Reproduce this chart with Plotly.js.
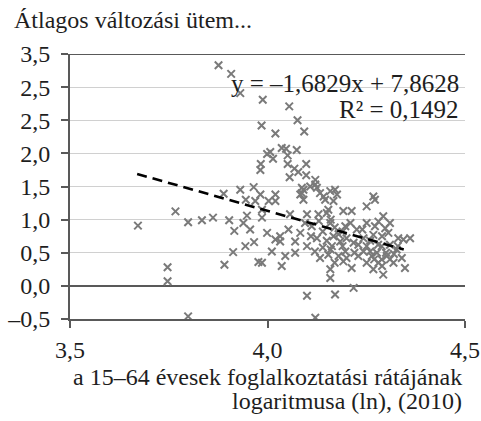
<!DOCTYPE html>
<html>
<head>
<script src="https://cdn.plot.ly/plotly-3.0.1.min.js"></script>
</head>
<body style="margin:0">
<div id="chart"></div>
<script>
// Scatter data (ln employment rate 2010 vs average change rate)
const xVals = [
3.672,3.767,3.747,3.747,3.799,3.799,3.834,3.862,3.889,3.903,3.916,3.931,3.945,3.965,3.969,3.948,3.939,3.956,3.913,3.891,3.944,3.966,3.977,
3.876,3.908,3.931,3.988,4.055,3.985,4.020,4.076,4.093,3.999,4.007,4.036,4.047,4.074,3.983,3.982,4.014,4.051,4.051,4.068,4.056,4.098,4.098,4.121,4.078,
4.125,4.087,4.083,4.133,4.159,4.171,4.268,3.982,4.020,4.003,4.020,3.986,3.986,3.999,4.020,4.032,4.011,4.032,3.986,4.057,4.053,4.070,4.045,4.036,4.070,
4.083,4.095,4.100,4.087,4.108,4.121,4.146,4.167,4.129,4.112,4.125,4.100,4.133,4.150,4.159,4.167,4.163,4.154,4.159,4.159,4.171,4.192,4.213,4.197,4.184,
4.197,4.192,4.213,4.218,4.100,4.121,4.226,4.218,4.230,4.251,4.272,4.251,4.268,4.251,4.264,4.268,4.293,4.281,4.293,4.310,4.306,4.289,4.302,4.319,4.327,
4.331,4.344,4.361,4.340,4.348,4.277,4.281,4.251,4.260,4.243,4.091,4.091,4.142,4.154,4.176,4.243,4.289,4.272,4.298,
4.14,4.15,4.16,4.17,4.18,4.19,4.20,4.18,4.14,4.16,4.21,4.20,4.23,4.24,4.22,4.26,4.28,4.30,4.29,4.31,4.32,4.33,4.27,4.29,4.31,4.11,4.12,4.13,4.17,4.19
];
const yVals = [
0.91,1.125,0.28,0.07,-0.46,0.96,0.99,1.03,1.39,0.99,0.83,1.45,1.30,1.49,1.28,1.06,0.95,0.85,0.51,0.32,0.60,0.66,0.36,
3.33,3.20,2.91,2.81,2.71,2.42,2.30,2.50,2.33,1.99,2.02,2.08,2.07,2.05,1.84,1.75,1.92,1.97,1.84,1.77,1.64,1.84,1.67,1.60,1.72,
1.48,1.48,1.38,1.40,1.43,1.45,1.35,1.38,1.38,1.28,1.28,1.15,1.03,0.80,0.70,0.75,0.52,0.67,0.35,1.08,0.85,0.67,0.45,0.30,0.50,
0.80,0.95,1.08,1.40,1.50,1.53,1.30,1.28,1.08,0.90,0.72,0.60,0.42,1.10,0.95,0.75,0.60,0.47,0.25,0.12,-0.13,1.13,1.13,0.90,0.67,
0.52,0.37,0.27,-0.03,-0.15,-0.48,0.85,0.65,0.45,1.20,1.30,0.95,0.77,0.60,0.45,0.25,0.17,0.97,1.05,0.95,0.80,0.60,0.45,0.35,0.55,
0.72,0.70,0.72,0.42,0.27,0.50,0.35,0.35,0.52,0.72,1.45,1.30,1.35,1.15,1.38,0.52,0.40,0.90,0.87,
0.82,0.68,0.55,0.88,0.78,0.60,0.72,0.45,0.58,1.00,0.95,0.42,0.62,0.85,0.50,0.68,0.62,0.50,0.75,0.62,0.48,0.60,0.40,0.30,0.40,0.75,0.52,0.98,0.35,0.82
];
// Linear trend endpoints
const trendX = [3.67, 4.345];
const trendY = [1.69, 0.55];
// Axis ticks
const yTickVals = [-0.5, 0, 0.5, 1, 1.5, 2, 2.5, 3, 3.5];
const yTickText = ['–0,5','0,0','0,5','1,0','1,5','2,0','2,5','2,5','3,5'];
const xTickVals = [3.5, 4.0, 4.5];
const xTickText = ['3,5','4,0','4,5'];
const titleText = 'Átlagos változási ütem...';
const xTitle1 = 'a 15–64 évesek foglalkoztatási rátájának';
const xTitle2 = 'logaritmusa (ln), (2010)';
const eqText = 'y = –1,6829x + 7,8628';
const r2Text = 'R² = 0,1492';

const dark = '#595959';
const txt = '#1e1e1e';
const F = {family: 'Liberation Serif', size: 24, color: txt};
const FE = {family: 'Liberation Serif', size: 25, color: txt};

const traces = [
  {
    type: 'scatter', mode: 'markers', x: xVals, y: yVals,
    marker: {symbol: 'x-thin-open', size: 7.5, color: '#7a7a7a', line: {color: '#7a7a7a', width: 2}},
    hoverinfo: 'skip', showlegend: false
  },
  {
    type: 'scatter', mode: 'lines', x: trendX, y: trendY,
    line: {color: '#000', width: 2.6, dash: '10px,6px'},
    hoverinfo: 'skip', showlegend: false
  }
];

const layout = {
  width: 481, height: 421,
  margin: {l: 70, r: 16, t: 54, b: 101.5},
  paper_bgcolor: '#fff', plot_bgcolor: '#fff',
  showlegend: false,
  title: {text: titleText, x: 14/481, xanchor: 'left', xref: 'container', y: 1 - 20/421, yanchor: 'middle', yref: 'container', font: F},
  xaxis: {
    range: [3.5, 4.5], tickvals: xTickVals, ticktext: xTickText,
    showgrid: false, zeroline: false,
    showline: true, linecolor: dark, linewidth: 1.5,
    ticks: 'outside', ticklen: 7, tickwidth: 1.5, tickcolor: dark,
    ticklabelstandoff: 1,
    tickfont: F
  },
  yaxis: {
    range: [-0.5, 3.5], tickvals: yTickVals, ticktext: yTickText,
    showgrid: true, gridcolor: '#d0d0d0', gridwidth: 1,
    zeroline: true, zerolinecolor: dark, zerolinewidth: 1.5,
    showline: true, linecolor: dark, linewidth: 2,
    ticks: 'outside', ticklen: 7, tickwidth: 1.5, tickcolor: dark,
    ticklabelstandoff: 6,
    tickfont: F
  },
  shapes: [
    {type: 'line', xref: 'paper', yref: 'y', x0: 0, x1: 1, y0: 3.5, y1: 3.5, line: {color: dark, width: 2}}
  ],
  annotations: [
    {xref: 'x', yref: 'y', x: 4.49, y: 3.06, xanchor: 'right', yanchor: 'middle', text: eqText, showarrow: false, font: FE},
    {xref: 'x', yref: 'y', x: 4.49, y: 2.66, xanchor: 'right', yanchor: 'middle', text: r2Text, showarrow: false, font: FE},
    {xref: 'x', yref: 'paper', x: 4.497, y: -0.219, xanchor: 'right', yanchor: 'middle', text: xTitle1, showarrow: false, font: F},
    {xref: 'x', yref: 'paper', x: 4.497, y: -0.31, xanchor: 'right', yanchor: 'middle', text: xTitle2, showarrow: false, font: F}
  ]
};

Plotly.newPlot('chart', traces, layout, {displayModeBar: false});
</script>
</body>
</html>
